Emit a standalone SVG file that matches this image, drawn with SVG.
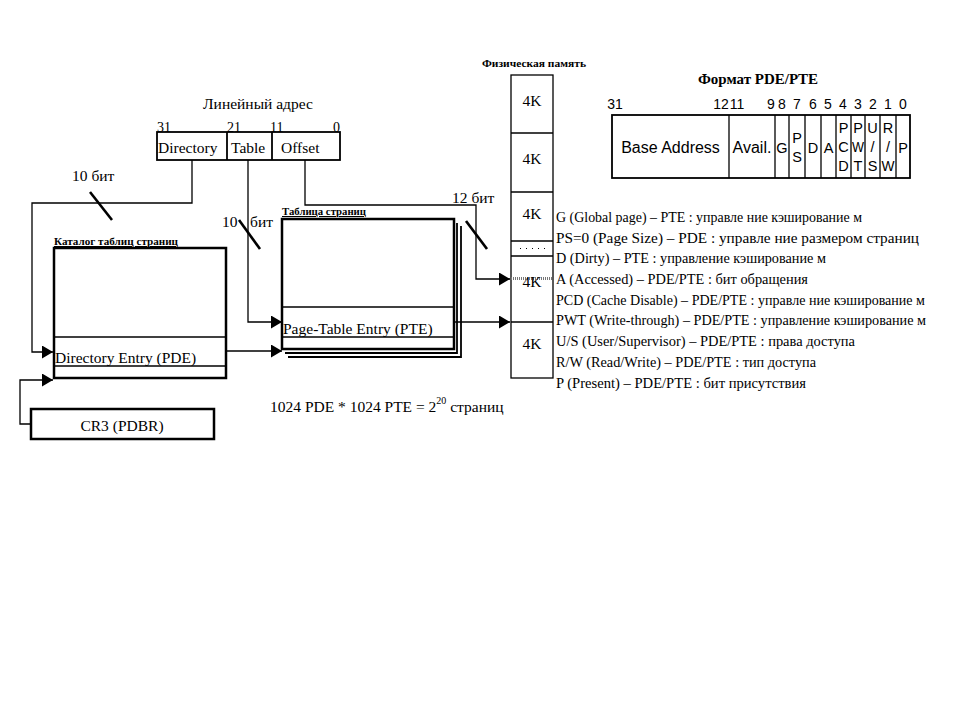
<svg xmlns="http://www.w3.org/2000/svg" width="960" height="720" viewBox="0 0 960 720">
  <style>
    .ln { stroke: #000; fill: none; stroke-width: 1.3; }
    .th { stroke: #000; fill: none; stroke-width: 2.5; }
    .md { stroke: #000; fill: none; stroke-width: 1.8; }
    .sl { stroke: #000; stroke-width: 2.6; }
    .serif { font-family: "Liberation Serif", "Times New Roman", serif; fill: #000; }
    .sans { font-family: "Liberation Sans", Arial, sans-serif; fill: #000; }
    .lbl { font-size: 15.5px; }
    .cap { font-size: 10.5px; font-weight: bold; }
    .leg { font-size: 14.5px; }
    .bits { font-size: 14px; }
    .cell { font-size: 16px; }
    .ltr { font-size: 14.5px; text-anchor: middle; }
    .num { font-size: 14px; text-anchor: middle; }
  </style>
  <defs>
    <marker id="arr" markerUnits="userSpaceOnUse" markerWidth="12" markerHeight="13" refX="11" refY="6.5" orient="auto">
      <path d="M0,0 L11,6.5 L0,13 z" fill="#000"/>
    </marker>
  </defs>
  <rect width="960" height="720" fill="#fff"/>

  <!-- linear address -->
  <g id="linear-address">
    <text class="serif" x="258" y="109" font-size="15.5" text-anchor="middle">Линейный адрес</text>
    <text class="serif bits" x="157" y="132">31</text>
    <text class="serif bits" x="227" y="132">21</text>
    <text class="serif bits" x="270" y="132">11</text>
    <text class="serif bits" x="340" y="132" text-anchor="end">0</text>
    <rect class="md" x="157" y="132" width="183" height="28"/>
    <line class="md" x1="227" y1="132" x2="227" y2="160"/>
    <line class="md" x1="272" y1="132" x2="272" y2="160"/>
    <text class="serif lbl" x="158" y="153">Directory</text>
    <text class="serif lbl" x="231" y="153">Table</text>
    <text class="serif lbl" x="281" y="153">Offset</text>
  </g>

  <!-- page directory -->
  <g id="page-directory">
    <text class="serif cap" x="54" y="245" text-decoration="underline" textLength="124" lengthAdjust="spacingAndGlyphs">Каталог таблиц страниц</text>
    <rect class="th" x="54" y="248" width="172" height="130"/>
    <line class="ln" x1="54" y1="337" x2="226" y2="337"/>
    <line class="ln" x1="54" y1="366" x2="226" y2="366"/>
    <text class="serif lbl" x="55" y="363">Directory Entry (PDE)</text>
  </g>

  <!-- CR3 register -->
  <g id="cr3">
    <rect class="th" x="31" y="409" width="183" height="30"/>
    <text class="serif lbl" x="122" y="431" text-anchor="middle">CR3 (PDBR)</text>
  </g>

  <!-- page table with stacked copies -->
  <g id="page-table">
    <text class="serif cap" x="282" y="215" text-decoration="underline" textLength="84" lengthAdjust="spacingAndGlyphs">Таблица страниц</text>
    <polyline class="md" points="285,353 457,353 457,223"/>
    <polyline class="md" points="288,357 461,357 461,226"/>
    <rect class="th" x="282" y="219" width="172" height="130" fill="#fff"/>
    <line class="ln" x1="282" y1="307" x2="454" y2="307"/>
    <line class="ln" x1="282" y1="337" x2="454" y2="337"/>
    <text class="serif lbl" x="283" y="334">Page-Table Entry (PTE)</text>
  </g>

  <!-- physical memory -->
  <g id="physical-memory">
    <text class="serif cap" x="534" y="67" text-anchor="middle" textLength="104" lengthAdjust="spacingAndGlyphs">Физическая память</text>
    <rect class="ln" x="511" y="75" width="42" height="303"/>
    <line class="ln" x1="511" y1="133" x2="553" y2="133"/>
    <line class="ln" x1="511" y1="192" x2="553" y2="192"/>
    <line class="ln" x1="511" y1="241" x2="553" y2="241"/>
    <line class="ln" x1="511" y1="256" x2="553" y2="256"/>
    <line class="ln" x1="511" y1="322" x2="553" y2="322"/>
    <line x1="520" y1="248.5" x2="548" y2="248.5" stroke="#000" stroke-width="1" stroke-dasharray="1,5"/>
    <line x1="511" y1="278.5" x2="553" y2="278.5" stroke="#777" stroke-width="3" stroke-dasharray="1,1"/>
    <text class="serif lbl" x="532" y="106" text-anchor="middle">4K</text>
    <text class="serif lbl" x="532" y="164" text-anchor="middle">4K</text>
    <text class="serif lbl" x="532" y="219" text-anchor="middle">4K</text>
    <text class="serif lbl" x="532" y="287" text-anchor="middle">4K</text>
    <text class="serif lbl" x="532" y="349" text-anchor="middle">4K</text>
  </g>

  <!-- PDE/PTE format -->
  <g id="entry-format">
    <text class="serif" x="758" y="84" font-size="15" font-weight="bold" text-anchor="middle">Формат PDE/PTE</text>
    <g class="sans num">
      <text x="615" y="109">31</text>
      <text x="721" y="109">12</text>
      <text x="737" y="109">11</text>
      <text x="771" y="109">9</text>
      <text x="782" y="109">8</text>
      <text x="797" y="109">7</text>
      <text x="813" y="109">6</text>
      <text x="828" y="109">5</text>
      <text x="843" y="109">4</text>
      <text x="858" y="109">3</text>
      <text x="873" y="109">2</text>
      <text x="888" y="109">1</text>
      <text x="903" y="109">0</text>
    </g>
    <rect class="md" x="612" y="115" width="298" height="63"/>
    <g class="ln">
      <line x1="729" y1="115" x2="729" y2="178"/>
      <line x1="775" y1="115" x2="775" y2="178"/>
      <line x1="789" y1="115" x2="789" y2="178"/>
      <line x1="805" y1="115" x2="805" y2="178"/>
      <line x1="821" y1="115" x2="821" y2="178"/>
      <line x1="836" y1="115" x2="836" y2="178"/>
      <line x1="851" y1="115" x2="851" y2="178"/>
      <line x1="865" y1="115" x2="865" y2="178"/>
      <line x1="880" y1="115" x2="880" y2="178"/>
      <line x1="896" y1="115" x2="896" y2="178"/>
    </g>
    <text class="sans cell" x="670.5" y="153" text-anchor="middle">Base Address</text>
    <text class="sans cell" x="752" y="153" text-anchor="middle">Avail.</text>
    <g class="sans ltr">
      <text x="782" y="153">G</text>
      <text x="797" y="143">P</text>
      <text x="797" y="162">S</text>
      <text x="813" y="153">D</text>
      <text x="828.5" y="153">A</text>
      <text x="843.5" y="133">P</text>
      <text x="843.5" y="152">C</text>
      <text x="843.5" y="171">D</text>
      <text x="858" y="133">P</text>
      <text x="858" y="152" textLength="12" lengthAdjust="spacingAndGlyphs">W</text>
      <text x="858" y="171">T</text>
      <text x="872.5" y="133">U</text>
      <text x="872.5" y="152">/</text>
      <text x="872.5" y="171">S</text>
      <text x="888" y="133">R</text>
      <text x="888" y="152">/</text>
      <text x="888" y="171" textLength="13" lengthAdjust="spacingAndGlyphs">W</text>
      <text x="903" y="153">P</text>
    </g>
  </g>

  <!-- flag legend -->
  <g id="flag-legend" class="serif leg">
    <text x="556" y="222" textLength="306" lengthAdjust="spacingAndGlyphs">G (Global page) – PTE : управле ние кэширование м</text>
    <text x="556" y="243" textLength="363" lengthAdjust="spacingAndGlyphs">PS=0 (Page Size) – PDE : управле ние размером страниц</text>
    <text x="556" y="263" textLength="270" lengthAdjust="spacingAndGlyphs">D (Dirty) – PTE : управление кэширование м</text>
    <text x="556" y="284" textLength="252" lengthAdjust="spacingAndGlyphs">A (Accessed) – PDE/PTE : бит обращения</text>
    <text x="556" y="305" textLength="369" lengthAdjust="spacingAndGlyphs">PCD (Cache Disable) – PDE/PTE : управле ние кэширование м</text>
    <text x="556" y="325" textLength="370" lengthAdjust="spacingAndGlyphs">PWT (Write-through) – PDE/PTE : управление кэширование м</text>
    <text x="556" y="346" textLength="299" lengthAdjust="spacingAndGlyphs">U/S (User/Supervisor) – PDE/PTE : права доступа</text>
    <text x="556" y="367" textLength="260" lengthAdjust="spacingAndGlyphs">R/W (Read/Write) – PDE/PTE : тип доступа</text>
    <text x="556" y="388" textLength="250" lengthAdjust="spacingAndGlyphs">P (Present) – PDE/PTE : бит присутствия</text>
  </g>

  <!-- page count -->
  <g id="page-count">
    <text class="serif lbl" x="270" y="412">1024 PDE * 1024 PTE = 2<tspan font-size="10" dy="-8">20</tspan><tspan dy="8"> страниц</tspan></text>
  </g>

  <!-- connectors -->
  <g id="connectors">
    <path class="ln" d="M192,160 V203 H32 V352 H53" marker-end="url(#arr)"/>
    <path class="ln" d="M31,424 H20 V380 H53" marker-end="url(#arr)"/>
    <path class="ln" d="M248,160 V322 H282" marker-end="url(#arr)"/>
    <path class="ln" d="M226,351 H282" marker-end="url(#arr)"/>
    <path class="ln" d="M305,160 V205 H476 V279 H510" marker-end="url(#arr)"/>
    <path class="ln" d="M454,322 H510" marker-end="url(#arr)"/>
    <line class="sl" x1="90" y1="192" x2="112" y2="220"/>
    <line class="sl" x1="239" y1="220" x2="260" y2="249"/>
    <line class="sl" x1="466" y1="221" x2="487" y2="249"/>
    <text class="serif lbl" x="72" y="181">10 бит</text>
    <text class="serif lbl" x="222" y="227">10</text>
    <text class="serif lbl" x="250" y="227">бит</text>
    <text class="serif lbl" x="452" y="203">12 бит</text>
  </g>
</svg>
